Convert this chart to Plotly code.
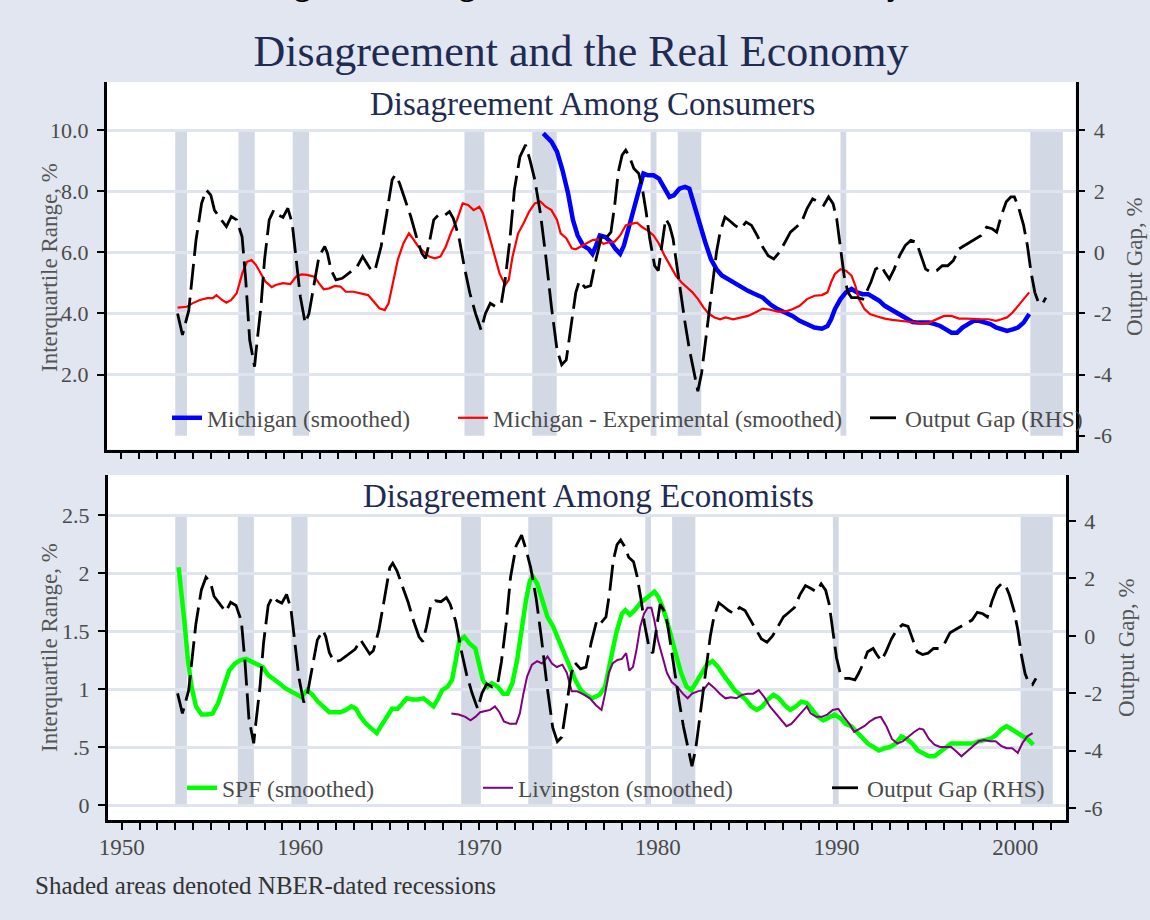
import plotly.graph_objects as go

# ---------------- data ----------------
rec_start = [1953.0, 1956.5, 1959.5, 1969.0, 1972.75, 1979.3, 1980.8, 1989.8, 2000.3]
rec_end = [1953.65, 1957.4, 1960.4, 1970.1, 1974.1, 1979.62, 1982.1, 1990.12, 2002.1]

og_year = [1953.13, 1953.4, 1953.75, 1954.15, 1954.46, 1954.72, 1954.97, 1955.17, 1955.55, 1955.83,
           1956.1, 1956.4, 1956.7, 1956.9, 1957.12, 1957.39, 1957.5, 1957.74, 1957.94, 1958.2,
           1958.45, 1958.7, 1958.96, 1959.23, 1959.47, 1959.68, 1959.92, 1960.19, 1960.4, 1960.66,
           1960.95, 1961.27, 1961.42, 1961.62, 1961.89, 1962.24, 1962.75, 1963.06, 1963.37, 1963.67,
           1963.88, 1964.08, 1964.39, 1964.7, 1965.0, 1965.17, 1965.41, 1965.72, 1966.03, 1966.34,
           1966.64, 1966.85, 1967.05, 1967.3, 1967.56, 1967.87, 1968.17, 1968.38, 1968.69, 1968.99,
           1969.3, 1969.61, 1969.92, 1970.16, 1970.43, 1970.73, 1971.04, 1971.25, 1971.51, 1971.76,
           1972.07, 1972.38, 1972.62, 1972.89, 1973.2, 1973.5, 1973.81, 1974.12, 1974.38, 1974.63,
           1974.94, 1975.16, 1975.36, 1975.67, 1975.98, 1976.28, 1976.59, 1976.8, 1977.1, 1977.31,
           1977.51, 1977.72, 1977.92, 1978.13, 1978.37, 1978.64, 1978.84, 1979.05, 1979.25, 1979.52,
           1979.72, 1979.97, 1980.13, 1980.34, 1980.54, 1980.75, 1980.95, 1981.2, 1981.44, 1981.71,
           1981.91, 1982.12, 1982.32, 1982.53, 1982.73, 1982.94, 1983.14, 1983.41, 1983.65, 1983.96,
           1984.27, 1984.58, 1984.88, 1985.19, 1985.5, 1985.8, 1986.11, 1986.42, 1986.73, 1987.03,
           1987.34, 1987.65, 1987.95, 1988.26, 1988.57, 1988.87, 1989.14, 1989.39, 1989.59, 1989.8,
           1990.0, 1990.21, 1990.41, 1990.72, 1991.03, 1991.23, 1991.48, 1991.74, 1992.05, 1992.25,
           1992.5, 1992.77, 1993.07, 1993.38, 1993.69, 1994.0, 1994.26, 1994.51, 1994.81, 1995.12,
           1995.43, 1995.73, 1996.04, 1996.35, 1996.66, 1996.96, 1997.27, 1997.58, 1997.88, 1998.19,
           1998.44, 1998.7, 1998.97, 1999.22, 1999.42, 1999.67, 1999.93, 2000.14, 2000.34, 2000.55,
           2000.75, 2000.96, 2001.16]
og_val = [-2.0, -2.7, -1.9, 0.4, 1.6, 2.04, 1.87, 1.38, 1.06, 0.84,
          1.17, 1.06, 0.51, -0.9, -2.87, -3.74, -3.08, -1.78, -0.25, 1.06,
          1.38, 1.22, 1.14, 1.44, 0.95, -0.14, -1.45, -2.32, -2.0, -1.12,
          -0.14, 0.19, -0.03, -0.58, -0.9, -0.85, -0.63, -0.47, -0.14, -0.41,
          -0.63, -0.52, 0.19, 1.28, 2.37, 2.53, 2.26, 1.71, 1.17, 0.51,
          -0.03, -0.2, 0.3, 1.06, 1.22, 1.19, 1.33, 1.11, 0.51, -0.47,
          -1.34, -2.0, -2.54, -2.0, -1.67, -1.78, -1.67, -0.9, 0.4, 2.04,
          3.13, 3.51, 3.02, 2.37, 1.28, -0.14, -1.78, -3.19, -3.68, -3.52,
          -2.3, -1.31, -0.93, -1.15, -1.09, -0.22, 0.55, 0.44, 0.66, 1.54,
          2.63, 3.18, 3.34, 3.12, 2.74, 2.58, 2.08, 1.32, 0.44, -0.44,
          -0.6, 0.44, 1.1, 0.88, 0.44, -0.44, -1.31, -2.3, -3.17, -3.94,
          -4.54, -3.94, -2.95, -1.86, -0.87, 0.0, 0.66, 1.15, 1.04, 0.88,
          0.77, 0.99, 0.88, 0.55, 0.17, -0.11, -0.22, 0.0, 0.33, 0.66,
          0.82, 0.99, 1.43, 1.75, 1.65, 1.54, 1.81, 1.59, 1.1, 0.11,
          -0.76, -1.31, -1.48, -1.48, -1.53, -1.31, -0.98, -0.55, -0.44, -0.65,
          -0.87, -0.55, -0.11, 0.22, 0.39, 0.33, -0.11, -0.55, -0.65, -0.6,
          -0.44, -0.44, -0.27, 0.11, 0.22, 0.33, 0.44, 0.55, 0.82, 0.77,
          0.66, 1.21, 1.65, 1.81, 1.81, 1.43, 0.88, 0.22, -0.65, -1.31,
          -1.64, -1.7, -1.48]

mich_year = [1973.36, 1973.81, 1974.12, 1974.42, 1974.73, 1975.0, 1975.26, 1975.57, 1975.87, 1976.08,
             1976.28, 1976.49, 1976.8, 1977.1, 1977.35, 1977.61, 1977.82, 1978.13, 1978.37, 1978.64,
             1978.9, 1979.15, 1979.46, 1979.76, 1980.07, 1980.34, 1980.58, 1980.89, 1981.2, 1981.44,
             1981.71, 1982.02, 1982.32, 1982.63, 1982.94, 1983.24, 1983.55, 1983.86, 1984.27, 1984.68,
             1985.09, 1985.5, 1985.91, 1986.32, 1986.73, 1987.14, 1987.54, 1987.95, 1988.36, 1988.77,
             1989.08, 1989.28, 1989.49, 1989.8, 1990.1, 1990.41, 1990.72, 1991.03, 1991.33, 1991.64,
             1991.95, 1992.25, 1992.56, 1992.87, 1993.17, 1993.48, 1993.79, 1994.1, 1994.4, 1994.71,
             1995.02, 1995.32, 1995.63, 1995.94, 1996.25, 1996.55, 1996.86, 1997.17, 1997.47, 1997.78,
             1998.09, 1998.4, 1998.7, 1999.01, 1999.32, 1999.62, 1999.93, 2000.24]
mich_val = [9.89, 9.62, 9.29, 8.69, 7.93, 7.06, 6.55, 6.22, 6.11, 5.95,
            6.22, 6.55, 6.5, 6.33, 6.11, 5.95, 6.22, 6.88, 7.32, 7.97,
            8.58, 8.52, 8.52, 8.41, 8.08, 7.81, 7.86, 8.08, 8.14, 8.08,
            7.54, 6.88, 6.33, 5.78, 5.45, 5.24, 5.13, 5.02, 4.85, 4.74,
            4.63, 4.52, 4.3, 4.14, 4.03, 3.92, 3.76, 3.65, 3.54, 3.5,
            3.59, 3.81, 4.14, 4.47, 4.69, 4.8, 4.69, 4.63, 4.63, 4.52,
            4.41, 4.25, 4.14, 4.03, 3.92, 3.81, 3.72, 3.7, 3.7, 3.7,
            3.65, 3.59, 3.48, 3.37, 3.37, 3.54, 3.65, 3.76, 3.76, 3.7,
            3.65, 3.54, 3.48, 3.43, 3.48, 3.54, 3.7, 3.98]

exp_year = [1953.13, 1953.64, 1953.95, 1954.36, 1954.77, 1955.08, 1955.28, 1955.59, 1955.83, 1956.1,
            1956.4, 1956.71, 1956.97, 1957.22, 1957.46, 1957.73, 1957.99, 1958.34, 1958.55, 1958.96,
            1959.37, 1959.68, 1959.98, 1960.29, 1960.7, 1960.95, 1961.21, 1961.52, 1961.83, 1962.14,
            1962.44, 1962.86, 1963.27, 1963.67, 1963.98, 1964.29, 1964.59, 1964.8, 1965.0, 1965.31,
            1965.62, 1965.93, 1966.13, 1966.44, 1966.75, 1967.05, 1967.36, 1967.67, 1967.97, 1968.28,
            1968.59, 1968.9, 1969.2, 1969.51, 1969.82, 1970.02, 1970.33, 1970.64, 1970.94, 1971.25,
            1971.45, 1971.66, 1971.97, 1972.27, 1972.58, 1972.89, 1973.2, 1973.5, 1973.81, 1974.12,
            1974.32, 1974.63, 1974.94, 1975.16, 1975.46, 1975.77, 1976.08, 1976.39, 1976.69, 1977.0,
            1977.31, 1977.61, 1977.92, 1978.23, 1978.54, 1978.84, 1979.15, 1979.46, 1979.76, 1980.07,
            1980.38, 1980.69, 1981.0, 1981.3, 1981.61, 1981.92, 1982.22, 1982.53, 1982.84, 1983.14,
            1983.45, 1983.86, 1984.27, 1984.68, 1985.09, 1985.5, 1985.91, 1986.32, 1986.73, 1987.14,
            1987.54, 1987.95, 1988.36, 1988.77, 1989.08, 1989.28, 1989.49, 1989.8, 1990.1, 1990.41,
            1990.62, 1990.82, 1991.13, 1991.43, 1991.84, 1992.25, 1992.66, 1993.07, 1993.48, 1993.89,
            1994.3, 1994.71, 1995.12, 1995.53, 1995.94, 1996.35, 1996.76, 1997.17, 1997.58, 1997.99,
            1998.4, 1998.7, 1999.01, 1999.32, 1999.62, 1999.93, 2000.24]
exp_val = [4.19, 4.22, 4.33, 4.44, 4.5, 4.5, 4.6, 4.44, 4.35, 4.44,
           4.66, 5.31, 5.69, 5.75, 5.59, 5.31, 5.04, 4.86, 4.93, 4.99,
           4.96, 5.2, 5.28, 5.26, 5.2, 4.99, 4.79, 4.82, 4.9, 4.88,
           4.71, 4.71, 4.66, 4.6, 4.39, 4.17, 4.11, 4.33, 4.88, 5.75,
           6.29, 6.62, 6.46, 6.19, 6.02, 5.86, 5.8, 5.86, 6.19, 6.68,
           7.06, 7.6, 7.55, 7.38, 7.49, 7.28, 6.62, 5.97, 5.31, 4.93,
           5.1, 5.86, 6.62, 6.95, 7.33, 7.6, 7.66, 7.49, 7.38, 7.06,
           6.62, 6.46, 6.13, 6.1, 6.2, 6.3, 6.4, 6.42, 6.28, 6.33,
           6.35, 6.55, 6.88, 6.93, 6.97, 6.82, 6.71, 6.55, 6.28, 5.89,
           5.56, 5.24, 5.02, 4.85, 4.69, 4.47, 4.2, 3.98, 3.87, 3.81,
           3.87, 3.81, 3.87, 3.92, 4.03, 4.16, 4.12, 4.06, 4.06, 4.14,
           4.25, 4.47, 4.58, 4.6, 4.69, 5.02, 5.29, 5.45, 5.4, 5.24,
           4.91, 4.47, 4.14, 3.98, 3.9, 3.83, 3.79, 3.76, 3.72, 3.7,
           3.68, 3.7, 3.81, 3.92, 3.92, 3.83, 3.83, 3.81, 3.81, 3.81,
           3.76, 3.81, 3.87, 4.03, 4.25, 4.47, 4.69]

spf_year = [1953.19, 1953.37, 1953.54, 1953.71, 1953.91, 1954.16, 1954.47, 1954.78, 1955.09, 1955.4,
            1955.71, 1956.02, 1956.34, 1956.65, 1956.96, 1957.27, 1957.58, 1957.89, 1958.2, 1958.51,
            1958.82, 1959.13, 1959.44, 1959.75, 1960.06, 1960.37, 1960.68, 1960.99, 1961.3, 1961.62,
            1961.93, 1962.24, 1962.55, 1962.86, 1963.11, 1963.37, 1963.69, 1964.0, 1964.27, 1964.51,
            1964.82, 1965.13, 1965.45, 1965.76, 1965.96, 1966.27, 1966.58, 1966.89, 1967.2, 1967.45,
            1967.72, 1967.93, 1968.24, 1968.49, 1968.7, 1968.9, 1969.17, 1969.48, 1969.79, 1970.04,
            1970.21, 1970.48, 1970.72, 1971.04, 1971.35, 1971.59, 1971.86, 1972.13, 1972.38, 1972.63,
            1972.84, 1973.0, 1973.25, 1973.52, 1973.83, 1974.14, 1974.45, 1974.76, 1975.07, 1975.38,
            1975.65, 1975.9, 1976.33, 1976.74, 1977.05, 1977.36, 1977.67, 1977.99, 1978.19, 1978.44,
            1978.71, 1979.02, 1979.33, 1979.6, 1979.81, 1980.01, 1980.26, 1980.51, 1980.78, 1981.05,
            1981.3, 1981.61, 1981.88, 1982.13, 1982.44, 1982.75, 1983.06, 1983.37, 1983.68, 1983.99,
            1984.3, 1984.61, 1984.92, 1985.23, 1985.54, 1985.85, 1986.16, 1986.47, 1986.78, 1987.1,
            1987.41, 1987.72, 1988.03, 1988.34, 1988.65, 1988.96, 1989.27, 1989.58, 1989.89, 1990.2,
            1990.51, 1990.82, 1991.13, 1991.44, 1991.75, 1992.06, 1992.37, 1992.69, 1993.0, 1993.31,
            1993.62, 1993.93, 1994.24, 1994.55, 1994.86, 1995.17, 1995.48, 1995.79, 1996.1, 1996.41,
            1996.72, 1997.03, 1997.34, 1997.65, 1997.96, 1998.27, 1998.59, 1998.9, 1999.21, 1999.52,
            1999.83, 2000.14, 2000.45, 2000.76, 2001.01]
spf_val = [2.05, 1.82, 1.54, 1.25, 1.02, 0.85, 0.78, 0.78, 0.79, 0.88,
           1.02, 1.16, 1.22, 1.25, 1.26, 1.24, 1.21, 1.19, 1.12, 1.09,
           1.05, 1.01, 0.98, 0.96, 0.93, 0.99, 0.95, 0.89, 0.85, 0.8,
           0.8, 0.8, 0.82, 0.85, 0.83, 0.76, 0.7, 0.66, 0.62, 0.68,
           0.76, 0.83, 0.83, 0.88, 0.92, 0.91, 0.91, 0.92, 0.88, 0.85,
           0.92, 0.99, 1.02, 1.08, 1.25, 1.42, 1.45, 1.39, 1.35, 1.19,
           1.08, 1.02, 1.05, 1.02, 0.96, 0.96, 1.05, 1.25, 1.54, 1.77,
           1.93, 1.97, 1.91, 1.77, 1.62, 1.54, 1.42, 1.31, 1.19, 1.08,
           1.0, 0.96, 0.92, 0.95, 1.02, 1.25, 1.48, 1.65, 1.68, 1.64,
           1.68, 1.74, 1.78, 1.82, 1.84, 1.8, 1.71, 1.59, 1.45, 1.28,
           1.14, 1.02, 0.99, 1.05, 1.14, 1.21, 1.24, 1.19, 1.12, 1.05,
           0.99, 0.95, 0.91, 0.85, 0.82, 0.85, 0.91, 0.95, 0.92, 0.86,
           0.82, 0.85, 0.89, 0.88, 0.82, 0.76, 0.73, 0.75, 0.78, 0.75,
           0.7, 0.68, 0.63, 0.59, 0.53, 0.5, 0.47, 0.49, 0.5, 0.53,
           0.59, 0.57, 0.53, 0.47, 0.45, 0.42, 0.42, 0.46, 0.5, 0.53,
           0.53, 0.53, 0.53, 0.53, 0.55, 0.56, 0.57, 0.6, 0.65, 0.68,
           0.65, 0.63, 0.6, 0.56, 0.52]

liv_year = [1968.45, 1968.86, 1969.23, 1969.52, 1969.79, 1970.06, 1970.35, 1970.62, 1970.89, 1971.14,
            1971.39, 1971.72, 1972.07, 1972.28, 1972.48, 1972.69, 1972.96, 1973.25, 1973.52, 1973.83,
            1974.08, 1974.35, 1974.66, 1974.91, 1975.18, 1975.49, 1975.9, 1976.2, 1976.54, 1976.85,
            1977.05, 1977.26, 1977.47, 1977.74, 1977.99, 1978.23, 1978.4, 1978.61, 1978.81, 1979.02,
            1979.23, 1979.43, 1979.64, 1979.81, 1980.01, 1980.26, 1980.51, 1980.78, 1981.09, 1981.4,
            1981.67, 1981.92, 1982.23, 1982.54, 1982.85, 1983.16, 1983.47, 1983.78, 1984.09, 1984.4,
            1984.71, 1985.02, 1985.34, 1985.65, 1985.96, 1986.27, 1986.58, 1986.89, 1987.2, 1987.47,
            1987.76, 1988.03, 1988.34, 1988.55, 1988.86, 1989.17, 1989.48, 1989.79, 1990.1, 1990.41,
            1990.72, 1990.99, 1991.24, 1991.55, 1991.86, 1992.17, 1992.48, 1992.79, 1993.1, 1993.41,
            1993.72, 1994.03, 1994.34, 1994.65, 1994.86, 1995.17, 1995.48, 1995.79, 1996.1, 1996.41,
            1996.72, 1996.99, 1997.28, 1997.61, 1997.96, 1998.27, 1998.59, 1998.9, 1999.21, 1999.52,
            1999.83, 2000.14, 2000.39, 2000.66, 2000.97]
liv_val = [0.79, 0.78, 0.76, 0.73, 0.76, 0.8, 0.81, 0.82, 0.85, 0.8,
           0.72, 0.7, 0.7, 0.79, 0.96, 1.11, 1.21, 1.24, 1.22, 1.28,
           1.22, 1.19, 1.21, 1.14, 0.98, 0.98, 0.95, 0.92, 0.86, 0.82,
           0.96, 1.14, 1.22, 1.25, 1.26, 1.31, 1.16, 1.19, 1.34, 1.54,
           1.65, 1.7, 1.7, 1.59, 1.42, 1.28, 1.14, 1.06, 1.02, 0.96,
           0.92, 0.96, 0.98, 0.99, 1.05, 1.01, 0.96, 0.92, 0.93, 0.92,
           0.95, 0.96, 0.96, 0.99, 0.93, 0.85, 0.79, 0.73, 0.68, 0.7,
           0.75, 0.79, 0.85, 0.79, 0.76, 0.76, 0.78, 0.82, 0.83, 0.76,
           0.7, 0.63, 0.65, 0.68, 0.72, 0.75, 0.76, 0.68, 0.57, 0.53,
           0.55, 0.59, 0.63, 0.66, 0.65, 0.57, 0.52, 0.5, 0.5, 0.5,
           0.46, 0.42, 0.46, 0.5, 0.55, 0.56, 0.55, 0.55, 0.51, 0.49,
           0.49, 0.45, 0.53, 0.59, 0.62]

top_left_ticks = [2, 4, 6, 8, 10]
top_left_text = ["2.0", "4.0", "6.0", "8.0", "10.0"]
bot_left_ticks = [0, 0.5, 1, 1.5, 2, 2.5]
bot_left_text = ["0", ".5", "1", "1.5", "2", "2.5"]
gap_ticks = [-6, -4, -2, 0, 2, 4]
gap_text = ["-6", "-4", "-2", "0", "2", "4"]

assert len(og_year) == len(og_val)
assert len(mich_year) == len(mich_val)
assert len(exp_year) == len(exp_val)
assert len(spf_year) == len(spf_val)
assert len(liv_year) == len(liv_val)

# ---------------- style ----------------
W, H = 1150, 920
FONT = "Liberation Serif"
BG = "#e1e6f0"
BAND = "#d2d8e4"
GRID = "#dfe4ee"
NAVY = "#1f2b52"
TXT = "#4a4a4a"
DASH = "26px,8px"


def px_x(px):
    return px / W


def px_y(py):
    return 1 - py / H


fig = go.Figure()

fig.add_trace(go.Scatter(x=mich_year, y=mich_val, xaxis="x", yaxis="y", mode="lines",
                         name="Michigan (smoothed)", line=dict(color="#0000ff", width=4.5),
                         legend="legend"))
fig.add_trace(go.Scatter(x=exp_year, y=exp_val, xaxis="x", yaxis="y", mode="lines",
                         name="Michigan - Experimental (smoothed)", line=dict(color="#ff0000", width=2.2),
                         legend="legend2"))
fig.add_trace(go.Scatter(x=og_year, y=og_val, xaxis="x", yaxis="y2", mode="lines",
                         name="Output Gap (RHS)", line=dict(color="black", width=2.8, dash=DASH),
                         legend="legend3"))
fig.add_trace(go.Scatter(x=spf_year, y=spf_val, xaxis="x2", yaxis="y3", mode="lines",
                         name="SPF (smoothed)", line=dict(color="#00ff00", width=4.5),
                         legend="legend4"))
fig.add_trace(go.Scatter(x=liv_year, y=liv_val, xaxis="x2", yaxis="y3", mode="lines",
                         name="Livingston (smoothed)", line=dict(color="#800080", width=2),
                         legend="legend5"))
fig.add_trace(go.Scatter(x=og_year, y=og_val, xaxis="x2", yaxis="y4", mode="lines",
                         name="Output Gap (RHS)", line=dict(color="black", width=2.8, dash=DASH),
                         legend="legend6"))

shapes = []
for s, e in zip(rec_start, rec_end):
    shapes.append(dict(type="rect", xref="x", yref="y", x0=s, x1=e, y0=0, y1=10,
                       fillcolor=BAND, line=dict(width=0), layer="below"))
    shapes.append(dict(type="rect", xref="x2", yref="y3", x0=s, x1=e, y0=0, y1=2.5,
                       fillcolor=BAND, line=dict(width=0), layer="below"))

tickfont = dict(family=FONT, size=22, color=TXT)
axline = dict(showline=True, linecolor="black", linewidth=2.5, ticks="outside",
              ticklen=7, tickwidth=2, tickcolor="black", zeroline=False)

top_dom_x = [px_x(106.7), px_x(1075.5)]
bot_dom_x = [px_x(107.7), px_x(1066)]
top_dom_y = [px_y(449.5), px_y(82)]
bot_dom_y = [px_y(820), px_y(475)]

legend_common = dict(orientation="h", xanchor="left", yanchor="middle", bgcolor="rgba(0,0,0,0)",
                     borderwidth=0, font=dict(family=FONT, size=23.5, color=TXT))


def leg(text_px, y_px):
    d = dict(legend_common)
    d.update(x=px_x(text_px - 40), y=px_y(y_px))
    return d


annotations = [
    dict(text="<b>Figure 1: Disagreement and the Real Economy</b>", x=px_x(584), y=px_y(-16),
         xref="paper", yref="paper", xanchor="center", yanchor="middle", showarrow=False,
         font=dict(family=FONT, size=32, color="black")),
    dict(text="Disagreement Among Consumers", x=px_x(592), y=px_y(104), xref="paper", yref="paper",
         xanchor="center", yanchor="middle", showarrow=False, font=dict(family=FONT, size=33, color=NAVY)),
    dict(text="Disagreement Among Economists", x=px_x(588), y=px_y(496), xref="paper", yref="paper",
         xanchor="center", yanchor="middle", showarrow=False, font=dict(family=FONT, size=33, color=NAVY)),
    dict(text="Interquartile Range, %", x=px_x(49), y=px_y(268), xref="paper", yref="paper",
         textangle=-90, xanchor="center", yanchor="middle", showarrow=False,
         font=dict(family=FONT, size=23, color="#555555")),
    dict(text="Interquartile Range, %", x=px_x(49), y=px_y(648), xref="paper", yref="paper",
         textangle=-90, xanchor="center", yanchor="middle", showarrow=False,
         font=dict(family=FONT, size=23, color="#555555")),
    dict(text="Output Gap, %", x=px_x(1135), y=px_y(267), xref="paper", yref="paper",
         textangle=-90, xanchor="center", yanchor="middle", showarrow=False,
         font=dict(family=FONT, size=23, color="#555555")),
    dict(text="Output Gap, %", x=px_x(1126), y=px_y(648), xref="paper", yref="paper",
         textangle=-90, xanchor="center", yanchor="middle", showarrow=False,
         font=dict(family=FONT, size=23, color="#555555")),
    dict(text="Shaded areas denoted NBER-dated recessions", x=px_x(33), y=px_y(885),
         xref="paper", yref="paper", xanchor="left", yanchor="middle", showarrow=False,
         font=dict(family=FONT, size=25, color="#333333")),
]

fig.update_layout(
    width=W, height=H,
    margin=dict(l=0, r=0, t=0, b=0, autoexpand=False),
    paper_bgcolor=BG, plot_bgcolor="white",
    font=dict(family=FONT, color=TXT),
    title=dict(text="Disagreement and the Real Economy", x=px_x(581), xanchor="center",
               y=px_y(51), yanchor="middle", font=dict(family=FONT, size=44, color=NAVY)),
    showlegend=True,
    xaxis=dict(domain=top_dom_x, anchor="y", range=[1949.21, 2002.8], tickmode="linear",
               tick0=1950, dtick=1, showticklabels=False, showgrid=False, **axline),
    yaxis=dict(domain=top_dom_y, anchor="x", range=[-0.45, 11.57], tickvals=top_left_ticks,
               ticktext=top_left_text, showgrid=True, gridcolor=GRID, gridwidth=3,
               tickfont=tickfont, ticklabelstandoff=4, **axline),
    yaxis2=dict(overlaying="y", side="right", anchor="x", range=[-6.45, 5.57], tickvals=gap_ticks,
                ticktext=gap_text, showgrid=False, tickfont=tickfont, ticklabelstandoff=4, **axline),
    xaxis2=dict(domain=bot_dom_x, anchor="y3", range=[1949.22, 2002.84], tickmode="linear",
                tick0=1950, dtick=10, showgrid=False, tickfont=dict(family=FONT, size=23, color=TXT),
                ticklabelstandoff=-2,
                minor=dict(dtick=1, tick0=1950, ticks="outside", ticklen=7, tickwidth=2,
                           tickcolor="black", showgrid=False),
                **axline),
    yaxis3=dict(domain=bot_dom_y, anchor="x2", range=[-0.129, 2.845], tickvals=bot_left_ticks,
                ticktext=bot_left_text, showgrid=True, gridcolor=GRID, gridwidth=3,
                tickfont=tickfont, ticklabelstandoff=4, **axline),
    yaxis4=dict(overlaying="y3", side="right", anchor="x2", range=[-6.41, 5.60], tickvals=gap_ticks,
                ticktext=gap_text, showgrid=False, tickfont=tickfont, ticklabelstandoff=4, **axline),
    legend=leg(207, 418),
    legend2=leg(493, 418),
    legend3=leg(905, 418),
    legend4=leg(222, 788),
    legend5=leg(518, 788),
    legend6=leg(867, 788),
    shapes=shapes,
    annotations=annotations,
)

fig.write_html("out.html", config={"displayModeBar": False},
               post_script="document.body.style.margin='0px';document.body.style.overflow='hidden';")
